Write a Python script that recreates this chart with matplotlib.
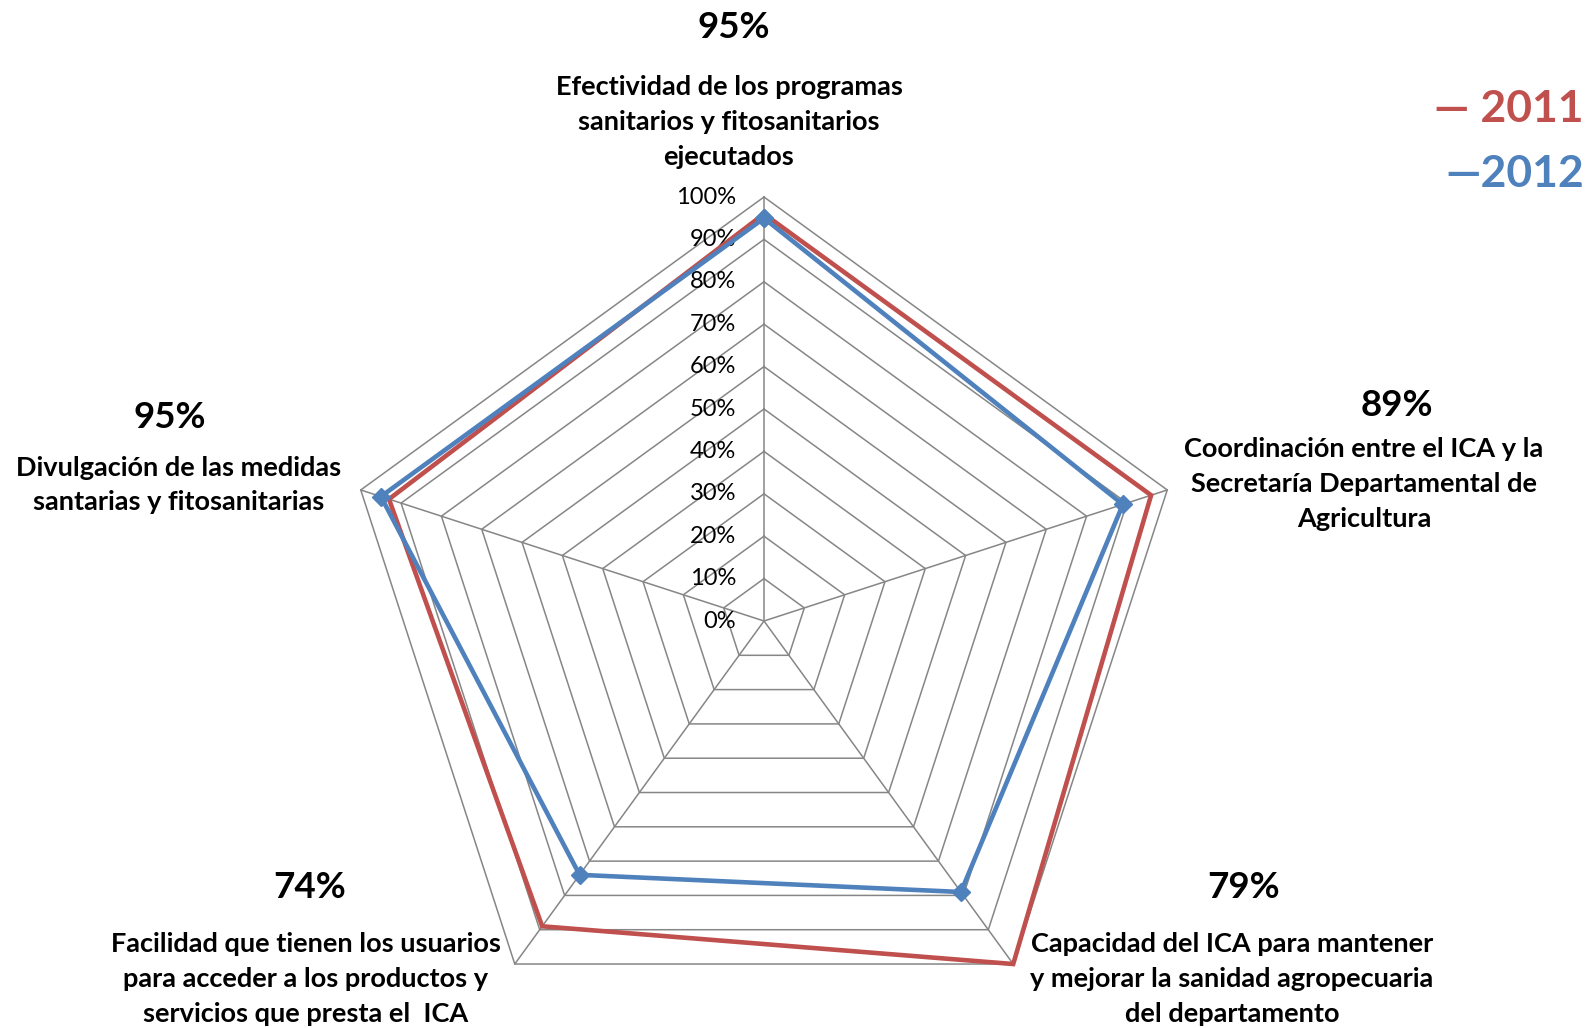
import matplotlib.pyplot as plt
import numpy as np

# datos
categorias = [
    "Efectividad de los programas\nsanitarios y fitosanitarios\nejecutados",
    "Coordinación entre el ICA y la\nSecretaría Departamental de\nAgricultura",
    "Capacidad del ICA para mantener\ny mejorar la sanidad agropecuaria\ndel departamento",
    "Facilidad que tienen los usuarios\npara acceder a los productos y\nservicios que presta el  ICA",
    "Divulgación de las medidas\nsantarias y fitosanitarias",
]
valores_2011 = [0.96, 0.96, 1.00, 0.89, 0.93]
valores_2012 = [0.95, 0.89, 0.79, 0.74, 0.95]
etiquetas_pct = ["95%", "89%", "79%", "74%", "95%"]
niveles = np.arange(0, 11) / 10.0
niveles_txt = ["0%", "10%", "20%", "30%", "40%", "50%",
               "60%", "70%", "80%", "90%", "100%"]

rojo = '#C0504D'
azul = '#4F81BD'
gris = '#868686'

plt.rcParams['font.family'] = ['Lato', 'DejaVu Sans']

W, H = 1587, 1028
cx, cy, R = 764, 621, 424   # centro y radio en pixeles

fig = plt.figure(figsize=(W / 100, H / 100), dpi=100)
ax = fig.add_axes([0, 0, 1, 1])
ax.set_xlim(-cx / R, (W - cx) / R)
ax.set_ylim(-(H - cy) / R, cy / R)
ax.axis('off')

n = len(categorias)
ang = np.pi / 2 - 2 * np.pi * np.arange(n) / n
ang_c = np.append(ang, ang[0])


def polar_xy(r, a):
    return r * np.cos(a), r * np.sin(a)


# rejilla pentagonal
for lv in niveles[1:]:
    x, y = polar_xy(lv, ang_c)
    ax.plot(x, y, color=gris, lw=1.1, zorder=1)
for a in ang:
    x, y = polar_xy(np.array([0, 1.0]), a)
    ax.plot(x, y, color=gris, lw=1.1, zorder=1)

# etiquetas del eje radial
for lv, t in zip(niveles, niveles_txt):
    ax.text(-0.066, lv, t, ha='right', va='center', fontsize=17, color='black')

# series
r11 = np.append(valores_2011, valores_2011[0])
x, y = polar_xy(r11, ang_c)
ax.plot(x, y, color=rojo, lw=3.3, zorder=3, solid_joinstyle='miter')

r12 = np.append(valores_2012, valores_2012[0])
x, y = polar_xy(r12, ang_c)
ax.plot(x, y, color=azul, lw=3.3, zorder=4, marker='D', markersize=9,
        solid_joinstyle='miter')

# etiquetas de categorias (posiciones en pixeles)
pos_cat = [(729, 122), (1364, 484), (1232, 979), (306, 979), (179, 485)]
pos_pct = [(734, 28), (1397, 406), (1244, 888), (310, 888), (170, 418)]
for cat, pc, (px, py), (qx, qy) in zip(categorias, etiquetas_pct, pos_cat, pos_pct):
    ax.text((px - cx) / R, (cy - py) / R, cat, ha='center', va='center',
            fontsize=19.5, fontweight='bold', linespacing=1.55)
    ax.text((qx - cx) / R, (cy - qy) / R, pc, ha='center', va='center',
            fontsize=26.5, fontweight='bold')

# leyenda
ax.text((1584 - cx) / R, (cy - 109) / R, "— 2011", ha='right', va='center',
        fontsize=32, fontweight='bold', color=rojo)
ax.text((1584 - cx) / R, (cy - 174) / R, "—2012", ha='right', va='center',
        fontsize=32, fontweight='bold', color=azul)

fig.savefig('out.png', dpi=100)
